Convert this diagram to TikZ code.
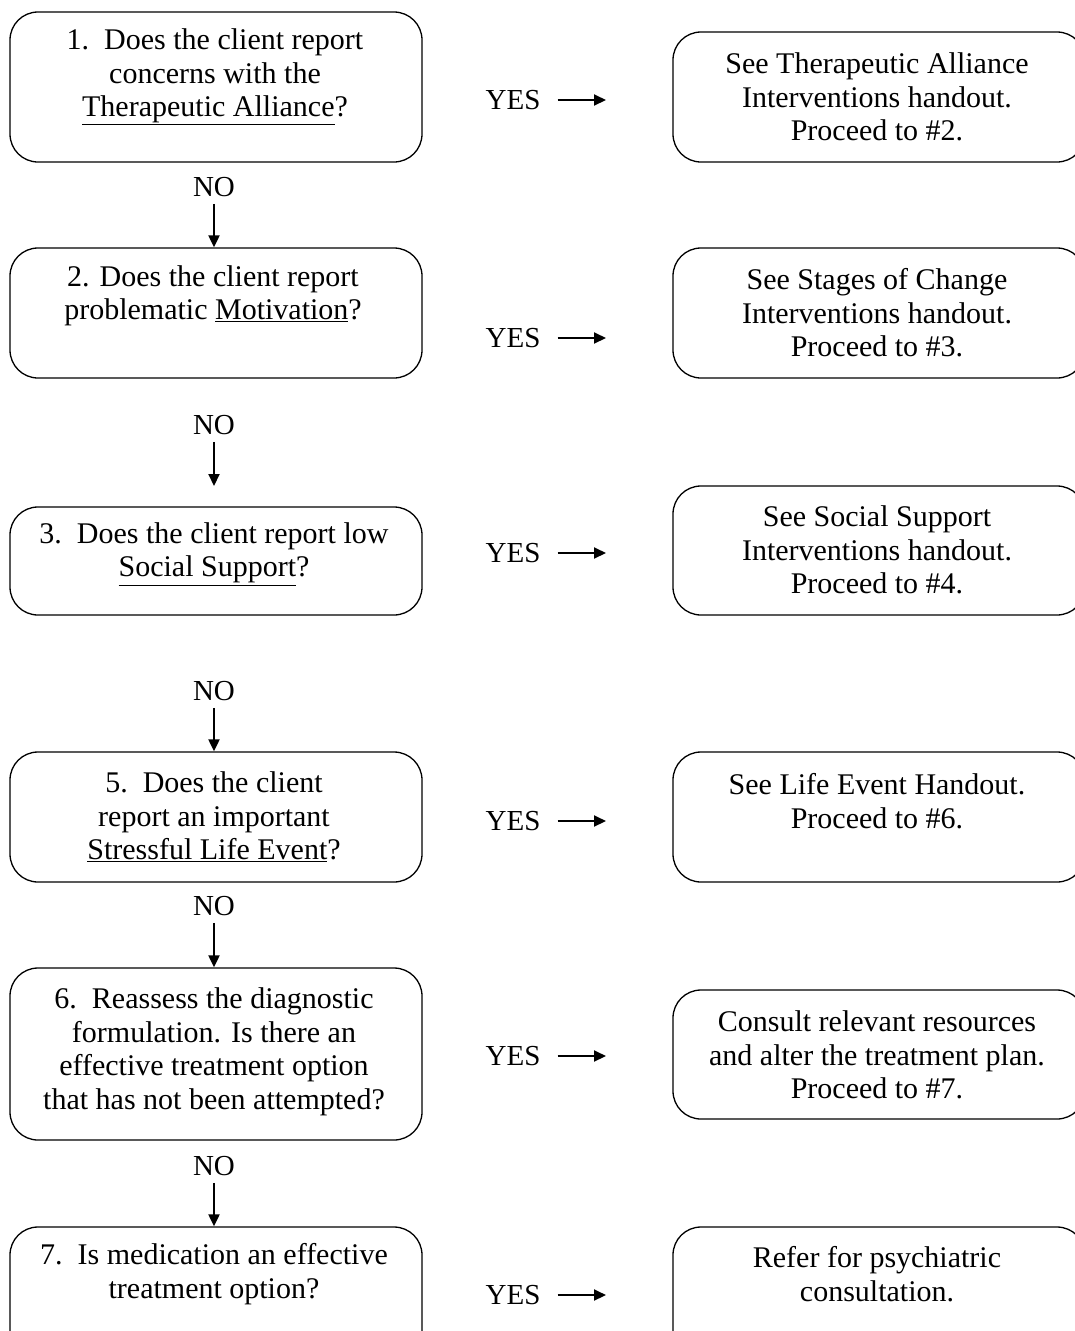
\documentclass[tikz,border=0pt]{standalone}
\usepackage{fontspec}
\setmainfont{Liberation Serif}
\usetikzlibrary{arrows.meta}
\begin{document}
\begin{tikzpicture}[x=1pt,y=-1pt,
  box/.style={draw, rounded corners=28pt, line width=1.3pt, minimum width=412pt, inner sep=0pt},
  txt/.style={align=center, font=\fontsize{30}{33.5}\selectfont, inner sep=0pt},
  lab/.style={font=\fontsize{29}{33.5}\selectfont, inner sep=0pt},
  arr/.style={-{Triangle[length=12pt,width=11pt]}, line width=2pt}]
\useasboundingbox (0,0) rectangle (1075,1331);
\clip (0,0) rectangle (1075,1331);
% left boxes
\node[box, minimum height=150pt] (b1) at (216,87) {};
\node[box, minimum height=130pt] (b2) at (216,313) {};
\node[box, minimum height=108pt] (b3) at (216,561) {};
\node[box, minimum height=130pt] (b5) at (216,817) {};
\node[box, minimum height=172pt] (b6) at (216,1054) {};
\node[box, minimum height=150pt] (b7) at (216,1302) {};
% right boxes
\node[box, minimum height=130pt] (r1) at (879,97) {};
\node[box, minimum height=130pt] (r2) at (879,313) {};
\node[box, minimum height=129pt] (r3) at (879,550.5) {};
\node[box, minimum height=130pt] (r5) at (879,817) {};
\node[box, minimum height=129pt] (r6) at (879,1054.5) {};
\node[box, minimum height=150pt] (r7) at (879,1302) {};
% left texts
\node[txt] (t1) at (215,77) {1.\ \ Does the client report\\concerns with the\\\underline{Therapeutic Alliance}?};
\node[txt] (t2) at (213,296) {2. Does the client report\\problematic \underline{Motivation}?};
\node[txt] (t3) at (214,554) {3.\ \ Does the client report low\\\underline{Social Support}?};
\node[txt] (t5) at (214,817) {5.\ \ Does the client\\report an important\\\underline{Stressful Life Event}?};
\node[txt] (t6) at (214,1052) {6.\ \ Reassess the diagnostic\\formulation. Is there an\\effective treatment option\\that has not been attempted?};
\node[txt] (t7) at (214,1274) {7.\ \ Is medication an effective\\treatment option?};
% right texts
\node[txt] (s1) at (877,97) {See Therapeutic Alliance\\Interventions handout.\\Proceed to \#2.};
\node[txt] (s2) at (877,313) {See Stages of Change\\Interventions handout.\\Proceed to \#3.};
\node[txt] (s3) at (877,550) {See Social Support\\Interventions handout.\\Proceed to \#4.};
\node[txt] (s5) at (877,801) {See Life Event Handout.\\Proceed to \#6.};
\node[txt] (s6) at (877,1055) {Consult relevant resources\\and alter the treatment plan.\\Proceed to \#7.};
\node[txt] (s7) at (877,1274) {Refer for psychiatric\\consultation.};
% YES labels and arrows
\foreach \i/\y in {1/100,2/338,3/553,5/821,6/1056,7/1295}{
  \node[lab] (yes\i) at (513,\y) {YES};
  \coordinate (ya\i) at (606,\y);
  \draw[arr, shorten <=17pt] (yes\i.east) -- (ya\i);
}
% NO labels and arrows
\node[lab] (no1) at (214,187) {NO};
\node[lab] (no2) at (214,425) {NO};
\node[lab] (no3) at (214,691) {NO};
\node[lab] (no5) at (214,906) {NO};
\node[lab] (no6) at (214,1166) {NO};
\coordinate (c3) at (214,486);
\draw[arr, shorten <=7pt] (no1.south) -- (b2.north -| no1);
\draw[arr, shorten <=7pt] (no2.south) -- (c3);
\draw[arr, shorten <=7pt] (no3.south) -- (b5.north -| no3);
\draw[arr, shorten <=7pt] (no5.south) -- (b6.north -| no5);
\draw[arr, shorten <=7pt] (no6.south) -- (b7.north -| no6);
\end{tikzpicture}
\end{document}
